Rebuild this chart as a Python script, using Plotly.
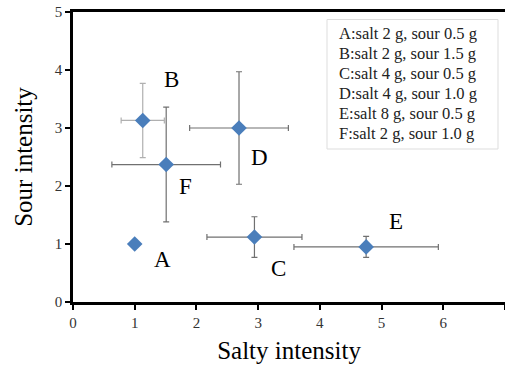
import plotly.graph_objects as go

labels = ["A", "B", "C", "D", "E", "F"]
salty = [1.0, 1.13, 2.94, 2.69, 4.75, 1.51]
sour = [1.0, 3.13, 1.12, 3.0, 0.95, 2.37]
salty_err = [0, 0.35, 0.77, 0.80, 1.17, 0.88]
sour_err = [0, 0.64, 0.35, 0.97, 0.18, 0.99]
label_x = [1.45, 1.59, 3.33, 3.02, 5.24, 1.83]
label_y = [0.73, 3.84, 0.57, 2.49, 1.38, 1.99]
legend_lines = [
    "A:salt 2 g, sour 0.5 g",
    "B:salt 2 g, sour 1.5 g",
    "C:salt 4 g, sour 0.5 g",
    "D:salt 4 g, sour 1.0 g",
    "E:salt 8 g, sour 0.5 g",
    "F:salt 2 g, sour 1.0 g",
]

FONT = "Liberation Serif, Times New Roman, serif"
W, H = 505, 368
ML, MR, MT, MB = 73, 0, 12, 66

fig = go.Figure()
for i, lab in enumerate(labels):
    if salty_err[i] == 0 and sour_err[i] == 0:
        ex = dict(visible=False)
        ey = dict(visible=False)
    else:
        col = "#b0b0b0" if lab == "B" else "#707070"
        ex = dict(type="data", array=[salty_err[i]], color=col, thickness=1.2, width=3)
        ey = dict(type="data", array=[sour_err[i]], color=col, thickness=1.2, width=3)
    fig.add_trace(go.Scatter(
        x=[salty[i]], y=[sour[i]], mode="markers",
        marker=dict(symbol="diamond", size=12, color="#4a7ebb"),
        error_x=ex, error_y=ey, showlegend=False, hoverinfo="skip"))

for i, lab in enumerate(labels):
    fig.add_annotation(x=label_x[i], y=label_y[i], text=lab, showarrow=False,
                       font=dict(family=FONT, size=23, color="black"),
                       xanchor="center", yanchor="middle")

pw = W - ML - MR
ph = H - MT - MB
def px2x(px):
    return (px - ML) / pw
def py2y(py):
    return (H - MB - py) / ph

fig.add_shape(type="rect", xref="paper", yref="paper",
              x0=px2x(327), x1=px2x(498), y0=py2y(149), y1=py2y(19.5),
              line=dict(color="#dddddd", width=1), fillcolor="white", layer="below")
for j, t in enumerate(legend_lines):
    fig.add_annotation(xref="paper", yref="paper", x=px2x(336.5), y=py2y(33.7 + 19.9 * j),
                       text=t, showarrow=False, xanchor="left", yanchor="middle",
                       font=dict(family=FONT, size=16.5, color="#222222"))

fig.update_layout(
    width=W, height=H,
    margin=dict(l=ML, r=MR, t=MT, b=MB),
    paper_bgcolor="white", plot_bgcolor="white",
    font=dict(family=FONT, color="black"),
    xaxis=dict(range=[0, 7], tickvals=[0, 1, 2, 3, 4, 5, 6, 7], showgrid=False, zeroline=False,
               showline=True, linecolor="black", linewidth=2.5, mirror=True,
               ticks="outside", ticklen=5, tickwidth=2, tickcolor="black",
               tickfont=dict(family=FONT, size=15, color="#333333"),
               title=dict(text="Salty intensity", font=dict(family=FONT, size=25, color="black"), standoff=12)),
    yaxis=dict(range=[0, 5], tickvals=[0, 1, 2, 3, 4, 5], showgrid=False, zeroline=False,
               showline=True, linecolor="black", linewidth=2.5, mirror=False,
               ticks="outside", ticklen=5, tickwidth=2, tickcolor="black",
               tickfont=dict(family=FONT, size=15, color="#333333"),
               title=dict(text="Sour intensity", font=dict(family=FONT, size=25, color="black"), standoff=16)),
)

fig.write_html("out.html")
